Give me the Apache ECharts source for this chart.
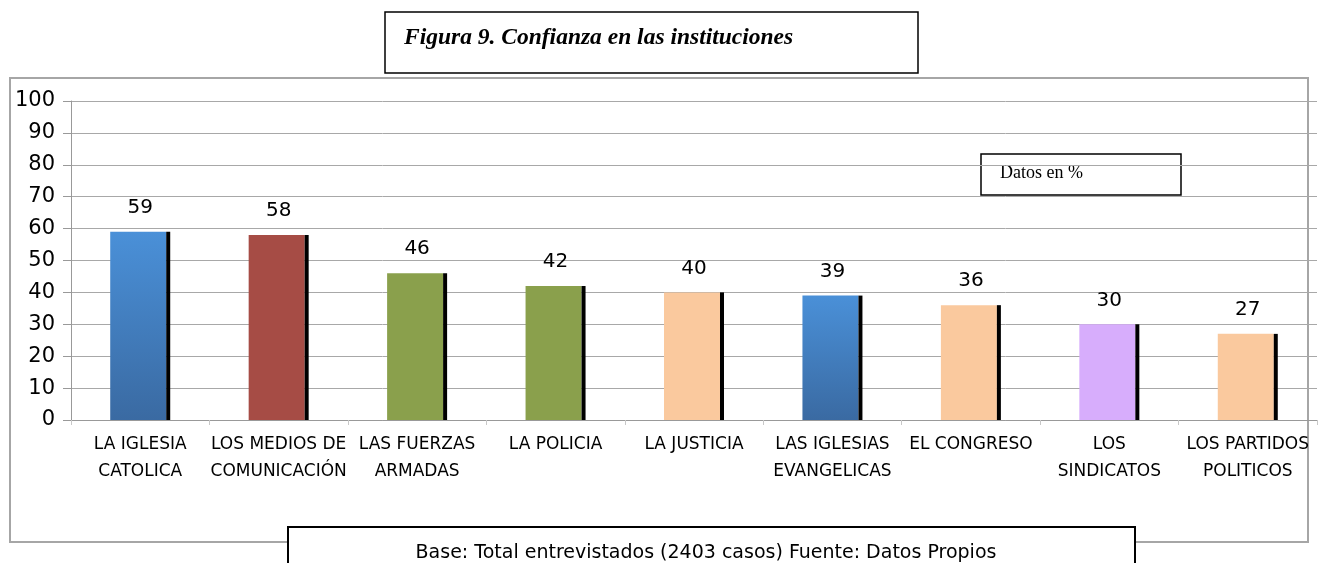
<!DOCTYPE html>
<html>
<head>
<meta charset="utf-8">
<title>Confianza en las instituciones</title>
<script src="https://cdn.jsdelivr.net/npm/echarts@6/dist/echarts.min.js"></script>
<style>
  html, body { margin: 0; padding: 0; background: #fff; }
  #myChart { width: 1324px; height: 563px; }
</style>
</head>
<body>
<div id="myChart"></div>
<script>
// datos
var categories = [
  "LA IGLESIA\nCATOLICA",
  "LOS MEDIOS DE\nCOMUNICACIÓN",
  "LAS FUERZAS\nARMADAS",
  "LA POLICIA",
  "LA JUSTICIA",
  "LAS IGLESIAS\nEVANGELICAS",
  "EL CONGRESO",
  "LOS\nSINDICATOS",
  "LOS PARTIDOS\nPOLITICOS"
];
var values = [59, 58, 46, 42, 40, 39, 36, 30, 27];
var yTicks = [0, 10, 20, 30, 40, 50, 60, 70, 80, 90, 100];

var blue = new echarts.graphic.LinearGradient(0, 0, 0, 1, [
  { offset: 0, color: "#4a90d8" },
  { offset: 1, color: "#3a6aa2" }
]);
// color de cada barra
var barColors = [blue, "#a64c45", "#8aa04c", "#8aa04c", "#fac99e", blue, "#fac99e", "#d7adfc", "#fac99e"];

var myChart = echarts.init(document.getElementById("myChart"));
myChart.setOption({
  animation: false,
  grid: { left: 71, right: 7, top: 101, bottom: 143 },
  xAxis: {
    type: "category",
    data: categories,
    axisLine: { lineStyle: { color: "#999", width: 1 } },
    axisTick: { show: true, length: 5, lineStyle: { color: "#c8c8c8" } },
    axisLabel: {
      interval: 0,
      color: "#000",
      fontFamily: "DejaVu Sans",
      fontSize: 17,
      lineHeight: 27,
      margin: 11
    }
  },
  yAxis: {
    type: "value",
    min: yTicks[0],
    max: yTicks[yTicks.length - 1],
    interval: 10,
    axisLine: { show: true, lineStyle: { color: "#999", width: 1 } },
    axisTick: { show: true, length: 8, lineStyle: { color: "#999" } },
    axisLabel: {
      color: "#000",
      fontFamily: "DejaVu Sans",
      fontSize: 21,
      margin: 16
    },
    splitLine: { show: true, lineStyle: { color: "#a8a8a8", width: 1 } }
  },
  series: [
    {
      // barras de color
      type: "bar",
      barWidth: 56,
      barGap: 0,
      data: values.map(function (v, i) {
        return { value: v, itemStyle: { color: barColors[i] } };
      }),
      label: {
        show: true,
        position: "top",
        distance: 14,
        offset: [2, 0],
        color: "#000",
        fontFamily: "DejaVu Sans",
        fontSize: 20
      }
    },
    {
      // borde negro a la derecha
      type: "bar",
      barWidth: 4,
      barGap: 0,
      data: values,
      itemStyle: { color: "#000" },
      silent: true
    }
  ],
  graphic: [
    // marco exterior
    {
      type: "rect",
      z: -1,
      shape: { x: 10, y: 78, width: 1298, height: 464 },
      style: { fill: null, stroke: "#a6a6a6", lineWidth: 2 }
    },
    // titulo
    {
      type: "rect",
      shape: { x: 385, y: 12, width: 533, height: 61 },
      style: { fill: "#fff", stroke: "#000", lineWidth: 1.5 }
    },
    {
      type: "text",
      x: 404,
      y: 38,
      style: {
        text: "Figura 9. Confianza en las instituciones",
        fill: "#000",
        font: "italic bold 23.5px 'Liberation Serif'",
        verticalAlign: "middle"
      }
    },
    // Datos en %
    {
      type: "rect",
      shape: { x: 981, y: 154, width: 200, height: 41 },
      style: { fill: "#fff", stroke: "#000", lineWidth: 1.5 }
    },
    {
      type: "text",
      x: 1000,
      y: 173,
      style: {
        text: "Datos en %",
        fill: "#000",
        font: "18px 'Liberation Serif'",
        verticalAlign: "middle"
      }
    },
    // fuente
    {
      type: "rect",
      shape: { x: 288, y: 527, width: 847, height: 50 },
      style: { fill: "#fff", stroke: "#000", lineWidth: 2 }
    },
    {
      type: "text",
      x: 706,
      y: 553,
      style: {
        text: "Base: Total entrevistados (2403 casos) Fuente: Datos Propios",
        fill: "#000",
        font: "19px 'DejaVu Sans'",
        align: "center",
        verticalAlign: "middle"
      }
    }
  ]
});
</script>
</body>
</html>
